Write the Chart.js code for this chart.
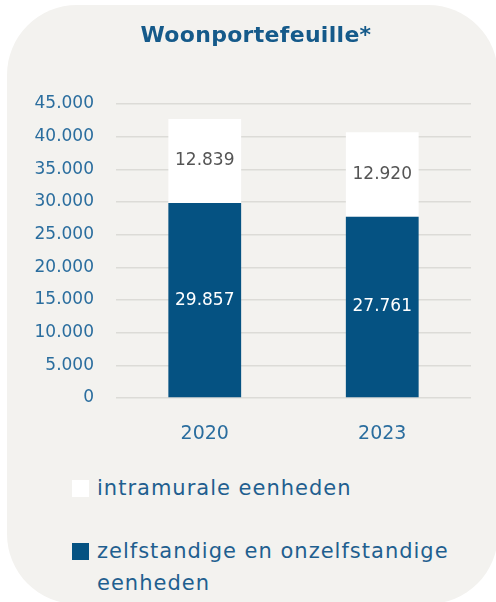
<!DOCTYPE html>
<html>
<head>
<meta charset="utf-8">
<script src="https://cdn.jsdelivr.net/npm/chart.js@4.4.1/dist/chart.umd.min.js"></script>
<style>
  html, body { margin: 0; padding: 0; background: #ffffff; width: 496px; height: 602px; overflow: hidden; }
  #panel { position: absolute; left: 7px; top: 5px; width: 491px; height: 599px; border-radius: 70px; background: #f3f2ef; }
  #wrap { position: absolute; left: 0; top: 0; width: 496px; height: 460px; }
  #legend { position: absolute; left: 0; top: 0; width: 496px; font-family: "DejaVu Sans", sans-serif; font-size: 21px; letter-spacing: 1px; color: #1f5f8f; }
  .item { position: absolute; left: 72px; display: flex; align-items: flex-start; }
  .sw { width: 17px; height: 17px; flex: none; margin-top: 8px; }
  .tx { margin-left: 8px; width: 375px; line-height: 32px; }
</style>
</head>
<body>
<div id="panel"></div>
<div id="wrap"><canvas id="c" width="496" height="460"></canvas></div>
<div id="legend"></div>
<script>
const categories = ["2020", "2023"];
const zelfstandige = [29857, 27761];
const intramurale = [12839, 12920];
const seriesLabels = ["zelfstandige en onzelfstandige eenheden", "intramurale eenheden"];
const yTicks = [0, 5000, 10000, 15000, 20000, 25000, 30000, 35000, 40000, 45000];
const titleText = "Woonportefeuille*";

const FONT = '"DejaVu Sans", sans-serif';
const BLUE = '#055282';
const fmt = v => String(v).replace(/\B(?=(\d{3})+(?!\d))/g, '.');

const titlePlugin = {
  id: 'titleText',
  afterDraw(chart) {
    const ctx = chart.ctx;
    ctx.save();
    ctx.letterSpacing = '0.3px';
    ctx.font = 'bold 22px ' + FONT;
    ctx.fillStyle = '#155a8a';
    ctx.textAlign = 'center';
    ctx.textBaseline = 'alphabetic';
    ctx.fillText(titleText, 256, 42);
    ctx.restore();
  }
};

const labelPlugin = {
  id: 'segLabels',
  afterDatasetsDraw(chart) {
    const ctx = chart.ctx;
    ctx.save();
    ctx.letterSpacing = '0px';
    ctx.font = '17px ' + FONT;
    ctx.textAlign = 'center';
    ctx.textBaseline = 'middle';
    chart.data.datasets.forEach((ds, di) => {
      const meta = chart.getDatasetMeta(di);
      meta.data.forEach((el, i) => {
        const p = el.getProps(['x', 'y', 'base'], true);
        ctx.fillStyle = ds.labelColor;
        ctx.fillText(fmt(ds.data[i]), p.x, (p.y + p.base) / 2);
      });
    });
    ctx.restore();
  }
};

const chart = new Chart(document.getElementById('c'), {
  type: 'bar',
  data: {
    labels: categories,
    datasets: [
      { label: seriesLabels[0], data: zelfstandige, backgroundColor: BLUE, labelColor: '#ffffff' },
      { label: seriesLabels[1], data: intramurale, backgroundColor: '#ffffff', labelColor: '#555555' }
    ]
  },
  options: {
    responsive: false,
    animation: false,
    layout: { padding: { left: 0, right: 25, top: 104, bottom: 0 } },
    plugins: {
      legend: { display: false },
      tooltip: { enabled: false },
      title: { display: false }
    },
    datasets: { bar: { categoryPercentage: 1, barPercentage: 0.41, borderWidth: 0 } },
    scales: {
      x: {
        stacked: true,
        grid: { display: false, drawTicks: false },
        border: { display: false },
        ticks: { color: '#2a6d9e', font: { family: FONT, size: 19 }, padding: 25 },
        afterFit(s) { s.height = 62; }
      },
      y: {
        stacked: true, min: 0, max: 45000,
        afterBuildTicks(s) { s.ticks = yTicks.map(v => ({ value: v })); },
        grid: { color: '#dcdbd7', lineWidth: 1.5, drawTicks: false },
        border: { display: false },
        ticks: { color: '#2a6d9e', font: { family: FONT, size: 17 }, padding: 22, callback: v => fmt(v) },
        afterFit(s) { s.width = 116; }
      }
    }
  },
  plugins: [labelPlugin, titlePlugin]
});

// HTML legend (reverse order, as in the reference)
const legend = document.getElementById('legend');
const tops = [472, 535];
chart.data.datasets.slice().reverse().forEach((ds, k) => {
  const it = document.createElement('div');
  it.className = 'item';
  it.style.top = tops[k] + 'px';
  const sw = document.createElement('div');
  sw.className = 'sw';
  sw.style.background = ds.backgroundColor;
  const tx = document.createElement('div');
  tx.className = 'tx';
  tx.textContent = ds.label;
  it.appendChild(sw); it.appendChild(tx);
  legend.appendChild(it);
});
</script>
</body>
</html>
